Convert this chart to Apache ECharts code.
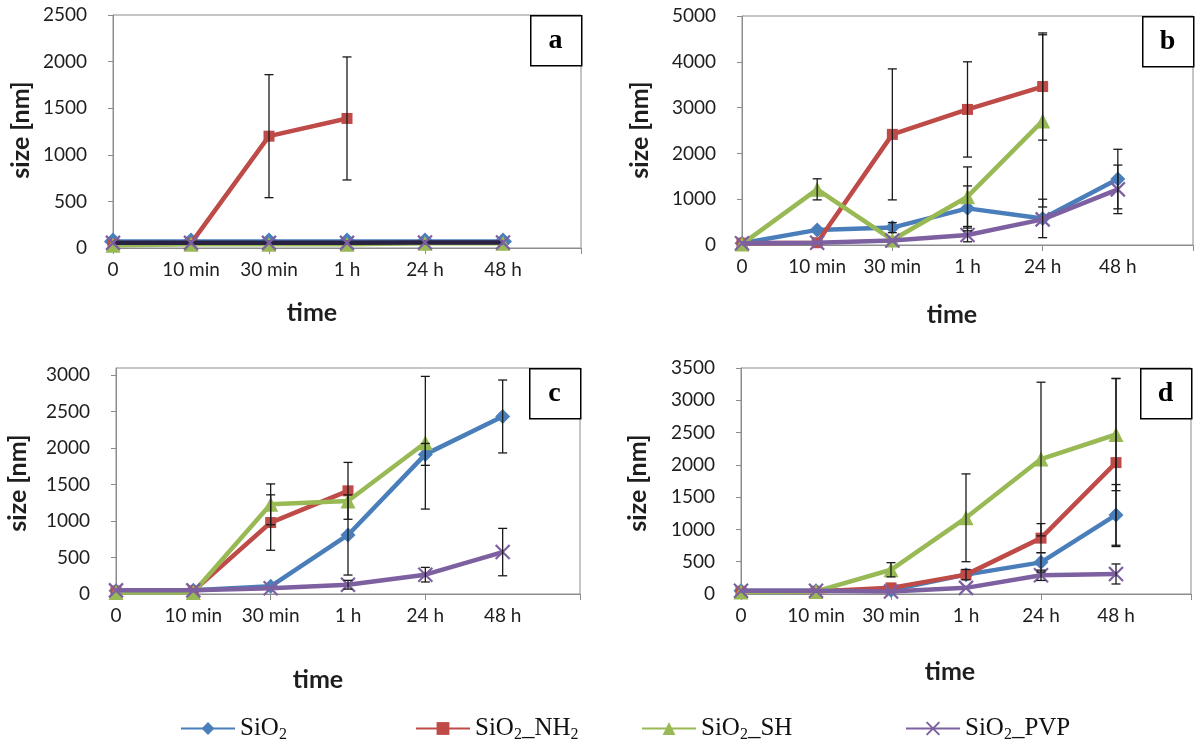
<!DOCTYPE html>
<html><head><meta charset="utf-8">
<script src="https://cdn.jsdelivr.net/npm/echarts@6/dist/echarts.min.js"></script>
<style>html,body{margin:0;padding:0;background:#fff}#c{width:1200px;height:754px}</style>
</head><body><div id="c"></div>
<script>
// ---------- data ----------
const categories = ['0', '10 min', '30 min', '1 h', '24 h', '48 h', ''];
const seriesNames = ['SiO2', 'SiO2_NH2', 'SiO2_SH', 'SiO2_PVP'];
const panelLabels = ['a', 'b', 'c', 'd'];
const yMax = [2500, 5000, 3100, 3500];
const yStep = [500, 1000, 500, 500];

// panel a
const aSiO2 = [70, 70, 70, 70, 70, 70];
const aNH2  = [40, 50, 1200, 1390, null, null];
const aSH   = [30, 40, 40, 40, 50, 50];
const aPVP  = [55, 55, 55, 55, 60, 60];
const aSiO2Err = [0, 0, 0, 0, 0, 0];
const aNH2Err  = [0, 0, 660, 660, 0, 0];
const aSHErr   = [0, 0, 0, 0, 0, 0];
const aPVPErr  = [0, 0, 0, 0, 0, 0];

// panel b
const bSiO2 = [40, 330, 380, 800, 580, 1440];
const bNH2  = [40, 50, 2415, 2960, 3460, null];
const bSH   = [20, 1215, 110, 1055, 2710, null];
const bPVP  = [40, 50, 100, 220, 560, 1215];
const bSiO2Err = [0, 0, 110, 490, 420, 650];
const bNH2Err  = [0, 0, 1430, 1040, 1170, 0];
const bSHErr   = [0, 230, 0, 650, 1880, 0];
const bPVPErr  = [0, 0, 0, 150, 0, 530];

// panel c
const cSiO2 = [45, 50, 105, 810, 1915, 2435];
const cNH2  = [40, 40, 980, 1415, null, null];
const cSH   = [20, 20, 1230, 1275, 2075, null];
const cPVP  = [50, 50, 80, 127, 265, 575];
const cSiO2Err = [0, 0, 0, 550, 150, 500];
const cNH2Err  = [0, 0, 380, 390, 0, 0];
const cSHErr   = [0, 0, 280, 0, 910, 0];
const cPVPErr  = [0, 0, 0, 60, 100, 325];

// panel d
const dSiO2 = [50, 50, 60, 300, 490, 1225];
const dNH2  = [40, 40, 95, 300, 865, 2035];
const dSH   = [30, 40, 375, 1180, 2090, 2470];
const dPVP  = [50, 50, 40, 95, 290, 310];
const dSiO2Err = [0, 0, 0, 80, 150, 470];
const dNH2Err  = [0, 0, 0, 0, 225, 1300];
const dSHErr   = [0, 0, 110, 680, 1190, 870];
const dPVPErr  = [0, 0, 0, 0, 80, 155];

const panelValues = [[aSiO2, aNH2, aSH, aPVP], [bSiO2, bNH2, bSH, bPVP], [cSiO2, cNH2, cSH, cPVP], [dSiO2, dNH2, dSH, dPVP]];
const panelErrors = [[aSiO2Err, aNH2Err, aSHErr, aPVPErr], [bSiO2Err, bNH2Err, bSHErr, bPVPErr], [cSiO2Err, cNH2Err, cSHErr, cPVPErr], [dSiO2Err, dNH2Err, dSHErr, dPVPErr]];

// ---------- styling / layout ----------
const colors = ['#4A7EBB', '#BE4B48', '#98B954', '#7D60A0'];
const symbols = ['diamond', 'rect', 'triangle', 'path://M0,0 L10,10 M10,0 L0,10'];
const symSizes = [15, 11, 15, 14];
const grids = [
  {left: 113, top: 15, width: 468, height: 233},
  {left: 742, top: 16, width: 451, height: 229},
  {left: 116, top: 368, width: 464, height: 226},
  {left: 741, top: 368, width: 450, height: 226}
];
const TICK_FONT = 'Lato';
const chart = echarts.init(document.getElementById('c'));

const xAxes = [], yAxes = [], series = [], graphic = [];
grids.forEach((g, p) => {
  g.show = true; g.borderColor = '#8c8c8c'; g.borderWidth = 1; g.containLabel = false;
  xAxes.push({
    type: 'category', gridIndex: p, data: categories, boundaryGap: false,
    axisLine: {show: true, lineStyle: {color: '#8c8c8c', width: 1}},
    axisTick: {show: true, interval: 1, length: 6, lineStyle: {color: '#8c8c8c'}},
    axisLabel: {interval: 0, fontFamily: TICK_FONT, fontSize: 19, color: '#1e1e1e', margin: 12},
    splitLine: {show: false}
  });
  yAxes.push({
    type: 'value', gridIndex: p, min: 0, max: yMax[p], interval: yStep[p],
    axisLine: {show: true, lineStyle: {color: '#8c8c8c', width: 1}},
    axisTick: {show: true, length: 5, lineStyle: {color: '#8c8c8c'}},
    axisLabel: {fontFamily: TICK_FONT, fontSize: 19, color: '#1e1e1e', margin: 26, showMaxLabel: yMax[p] % yStep[p] === 0,
      formatter: v => (v % yStep[p] === 0 ? String(v) : '')},
    splitLine: {show: false}
  });
  // panel letter box
  const bx = g.left + g.width - 51, by = g.top;
  graphic.push({type: 'rect', left: bx, top: by, shape: {width: 51, height: 50}, style: {fill: '#fff', stroke: '#000', lineWidth: 1.5}, z: 20});
  graphic.push({type: 'text', x: bx + 25.5, y: by + 26, z: 21, style: {text: panelLabels[p], font: 'bold 28px "Liberation Serif"', fill: '#000', align: 'center', verticalAlign: 'middle'}});
});

// series: panel a is added last so legend icons take the standard colours
[1, 2, 3, 0].forEach(p => {
  panelValues[p].forEach((vals, s) => {
    const lineColor = (p === 0 && s === 3) ? '#2a2242' : colors[s];
    series.push({
      type: 'line', name: seriesNames[s], xAxisIndex: p, yAxisIndex: p, data: vals,
      symbol: symbols[s], symbolSize: (p === 0 && s === 0) ? 18 : symSizes[s],
      connectNulls: false, z: 2 + s,
      lineStyle: {color: lineColor, width: 4.5},
      itemStyle: {color: colors[s], borderColor: colors[s], borderWidth: s === 3 ? 2.2 : 0},
      emphasis: {disabled: true}
    });
    const errData = [];
    vals.forEach((v, i) => { if (v != null && panelErrors[p][s][i]) errData.push([i, v - panelErrors[p][s][i], v + panelErrors[p][s][i]]); });
    series.push({
      type: 'custom', xAxisIndex: p, yAxisIndex: p, z: 10, silent: true, data: errData,
      encode: {x: 0, y: [1, 2]},
      renderItem: (params, api) => {
        const x = api.value(0);
        const lo = api.coord([x, Math.max(0, api.value(1))]);
        const hi = api.coord([x, api.value(2)]);
        const w = 4.5, st = {stroke: '#1a1a1a', lineWidth: 1.3};
        const ch = [
          {type: 'line', shape: {x1: lo[0], y1: lo[1], x2: hi[0], y2: hi[1]}, style: st},
          {type: 'line', shape: {x1: hi[0] - w, y1: hi[1], x2: hi[0] + w, y2: hi[1]}, style: st}
        ];
        if (api.value(1) > 0) ch.push({type: 'line', shape: {x1: lo[0] - w, y1: lo[1], x2: lo[0] + w, y2: lo[1]}, style: st});
        return {type: 'group', children: ch};
      }
    });
  });
});

// axis titles
const yTitlePos = [[21, 130], [640, 130], [18, 483], [638, 483]];
const xTitlePos = [[312, 313], [952, 315], [318, 680], [950, 672]];
yTitlePos.forEach(pt => graphic.push({type: 'text', x: pt[0], y: pt[1], rotation: Math.PI / 2, style: {text: 'size [nm]', font: 'bold 25px Lato', fill: '#1e1e1e', align: 'center', verticalAlign: 'middle'}}));
xTitlePos.forEach(pt => graphic.push({type: 'text', x: pt[0], y: pt[1], style: {text: 'time', font: 'bold 25px Lato', fill: '#1e1e1e', align: 'center', verticalAlign: 'middle'}}));

// legends
const legendLeft = [175, 410, 636, 900];
const legends = seriesNames.map((n, i) => ({
  data: [{name: n, lineStyle: {color: colors[i]}}], left: legendLeft[i], top: 711, itemWidth: 54, itemHeight: 16, itemGap: 14,
  selectedMode: false,
  formatter: name => name.replace(/(\d)/g, '}{s|$1}{b|').replace(/^/, '{b|') + '}',
  textStyle: {fontFamily: 'Liberation Serif', fontSize: 25, color: '#111',
    rich: {b: {fontFamily: 'Liberation Serif', fontSize: 25, color: '#111'},
           s: {fontFamily: 'Liberation Serif', fontSize: 16, color: '#111', padding: [13, 0, 0, 0]}}}
}));

chart.setOption({
  animation: false,
  grid: grids, xAxis: xAxes, yAxis: yAxes, series: series,
  legend: legends, graphic: graphic
});
</script></body></html>
